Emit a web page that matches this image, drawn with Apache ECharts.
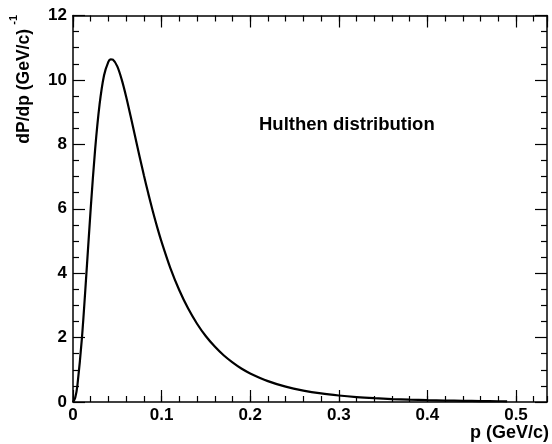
<!DOCTYPE html>
<html>
<head>
<meta charset="utf-8">
<script src="https://cdn.jsdelivr.net/npm/echarts@6/dist/echarts.min.js"></script>
<style>
html,body{margin:0;padding:0;background:#fff;}
#chart{width:552px;height:444px;}
</style>
</head>
<body>
<div id="chart"></div>
<script>
// Momentum values p (GeV/c)
const pValues = [0, 0.0025, 0.005, 0.01, 0.015, 0.02, 0.025, 0.03, 0.035, 0.04, 0.0425, 0.045, 0.05, 0.055, 0.06, 0.065, 0.07, 0.075, 0.08, 0.085, 0.09, 0.095, 0.1, 0.11, 0.12, 0.13, 0.14, 0.15, 0.16, 0.17, 0.18, 0.19, 0.2, 0.22, 0.24, 0.26, 0.28, 0.3, 0.32, 0.34, 0.36, 0.38, 0.4, 0.42, 0.44, 0.46, 0.48, 0.49];
// dP/dp values (GeV/c)^-1
const dPdp = [0, 0.134, 0.527, 1.96, 3.93, 6.01, 7.85, 9.24, 10.14, 10.57, 10.64, 10.63, 10.42, 10.01, 9.48, 8.88, 8.26, 7.64, 7.04, 6.47, 5.93, 5.43, 4.97, 4.15, 3.47, 2.90, 2.43, 2.04, 1.72, 1.45, 1.23, 1.04, 0.888, 0.648, 0.477, 0.355, 0.266, 0.202, 0.154, 0.119, 0.092, 0.072, 0.057, 0.045, 0.036, 0.029, 0.024, 0.021];
const xTickLabels = ['0', '0.1', '0.2', '0.3', '0.4', '0.5'];
const yTickLabels = ['0', '2', '4', '6', '8', '10', '12'];
const xTitle = 'p (GeV/c)';
const yTitle = 'dP/dp (GeV/c)';
const yTitleSup = '-1';
const plotLabel = 'Hulthen distribution';

const FONT = 'Liberation Sans, Arial, Helvetica, sans-serif';
const XMIN = 0, XMAX = 0.535, YMIN = 0, YMAX = 12;

const data = pValues.map((p, i) => [p, dPdp[i]]);

function xMajor(pos, show) {
  return {
    type: 'value', position: pos, min: XMIN, max: XMAX, interval: 0.1,
    axisLine: {show: true, onZero: false, lineStyle: {color: '#000', width: 1.5}},
    axisTick: {show: true, inside: true, length: 12, lineStyle: {color: '#000', width: 1.2}},
    axisLabel: {show: show, showMaxLabel: false, margin: 5, color: '#000', fontSize: 17, fontWeight: 'bold', fontFamily: FONT,
      formatter: v => { const i = Math.round(v * 10); return (Math.abs(v * 10 - i) < 1e-6 && i < xTickLabels.length) ? xTickLabels[i] : ''; }},
    splitLine: {show: false}
  };
}
function xMinor(pos) {
  return {
    type: 'value', position: pos, min: XMIN, max: XMAX, interval: 0.02,
    axisLine: {show: false, onZero: false},
    axisTick: {show: true, inside: true, length: 6, lineStyle: {color: '#000', width: 1.2}},
    axisLabel: {show: false}, splitLine: {show: false}
  };
}
function yAxisDef(pos, show) {
  return {
    type: 'value', position: pos, min: YMIN, max: YMAX, interval: 2,
    axisLine: {show: true, onZero: false, lineStyle: {color: '#000', width: 1.5}},
    axisTick: {show: true, inside: true, length: 12, lineStyle: {color: '#000', width: 1.2}},
    minorTick: {show: true, splitNumber: 4, length: 6, lineStyle: {color: '#000', width: 1.2}},
    axisLabel: {show: show, margin: 6, color: '#000', fontSize: 17, fontWeight: 'bold', fontFamily: FONT,
      formatter: v => yTickLabels[Math.round(v / 2)] || ''},
    splitLine: {show: false}, minorSplitLine: {show: false}
  };
}

const chart = echarts.init(document.getElementById('chart'), null, {renderer: 'canvas'});
chart.setOption({
  animation: false,
  backgroundColor: '#fff',
  grid: {left: 73, right: 5, top: 15.5, bottom: 42, containLabel: false},
  xAxis: [xMajor('bottom', true), xMinor('bottom'), xMajor('top', false), xMinor('top')],
  yAxis: [yAxisDef('left', true), yAxisDef('right', false)],
  series: [{
    type: 'line', xAxisIndex: 0, yAxisIndex: 0, data: data,
    showSymbol: false, smooth: 0.3,
    lineStyle: {color: '#000', width: 2.2}
  }],
  graphic: [
    {type: 'text', x: 259, y: 125, style: {text: plotLabel, fill: '#000', font: 'bold 18.5px ' + FONT, textAlign: 'left', textVerticalAlign: 'middle'}},
    {type: 'text', x: 549, y: 433, style: {text: xTitle, fill: '#000', font: 'bold 18px ' + FONT, textAlign: 'right', textVerticalAlign: 'middle'}},
    {type: 'text', x: 24, y: 29, rotation: Math.PI / 2, style: {text: yTitle, fill: '#000', font: 'bold 17.5px ' + FONT, textAlign: 'right', textVerticalAlign: 'middle'}},
    {type: 'text', x: 14, y: 15, rotation: Math.PI / 2, style: {text: yTitleSup, fill: '#000', font: 'bold 11px ' + FONT, textAlign: 'right', textVerticalAlign: 'middle'}}
  ]
});
</script>
</body>
</html>
